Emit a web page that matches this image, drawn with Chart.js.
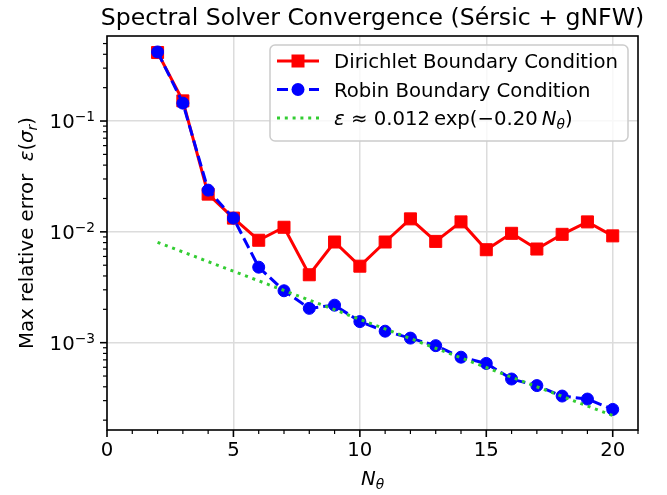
<!DOCTYPE html>
<html>
<head>
<meta charset="utf-8">
<title>Spectral Solver Convergence</title>
<script src="https://cdn.jsdelivr.net/npm/chart.js@4.4.1/dist/chart.umd.min.js"></script>
<style>
  html, body { margin: 0; padding: 0; background: #ffffff; }
  canvas { display: block; }
</style>
</head>
<body>
<canvas id="convergenceChart" width="667" height="495"></canvas>
<script>
// angular resolution N_theta and the max relative error for each boundary condition
const nTheta = [2, 3, 4, 5, 6, 7, 8, 9, 10, 11, 12, 13, 14, 15, 16, 17, 18, 19, 20];
const dirichletError = [0.415, 0.152, 0.0219, 0.0133, 0.0084, 0.0110, 0.0041, 0.0081, 0.0049, 0.0081,
  0.0131, 0.0082, 0.0123, 0.0069, 0.0097, 0.0070, 0.0095, 0.0123, 0.0092];
const robinError = [0.42, 0.145, 0.0238, 0.0133, 0.0048, 0.00294, 0.00204, 0.00218, 0.00155, 0.00127,
  0.00110, 0.00094, 0.00074, 0.00065, 0.00047, 0.00041, 0.00033, 0.00031, 0.00025];
// eps ~ 0.012 exp(-0.20 N), tabulated at the same N values
const fitError = [0.008044, 0.006586, 0.005392, 0.004415, 0.003614, 0.002959, 0.002423, 0.001984, 0.001624, 0.001330,
  0.001089, 0.000891, 0.000730, 0.000597, 0.000489, 0.000400, 0.000328, 0.000268, 0.000220];

const xMajorTicks = [0, 5, 10, 15, 20];
const yMajorTicks = [1e-3, 1e-2, 1e-1];
const yTickExponents = ["\u22123", "\u22122", "\u22121"];

const FONT = "DejaVu Sans";
const FS = 19.7;
const SUB = 13.8;
const colors = { red: "#ff0000", blue: "#0000ff", green: "#32cd32", grid: "#dcdcdc" };

const X_MIN = 0, X_MAX = 21;
const Y_MIN = 1.63e-4, Y_MAX = 0.585;

const toPoints = (ys) => nTheta.map((n, i) => ({ x: n, y: ys[i] }));

function majorIndexY(v) {
  return yMajorTicks.findIndex((m) => Math.abs(Math.log10(v) - Math.log10(m)) < 1e-9);
}

function yTicksInRange() {
  const ticks = [];
  for (let e = -4; e <= 0; e++) {
    for (let k = 1; k <= 9; k++) {
      const v = k * Math.pow(10, e);
      if (v >= Y_MIN && v <= Y_MAX) ticks.push({ value: v });
    }
  }
  return ticks;
}

function font(size, italic) {
  return (italic ? "italic " : "") + size + "px '" + FONT + "'";
}

// draws a run of text pieces with mixed style on baseline y
function drawRich(ctx, parts, x, y, align) {
  let total = 0;
  parts.forEach((p) => {
    ctx.font = font(p.size || FS, p.italic);
    p.w = ctx.measureText(p.text).width;
    total += p.w;
  });
  let cx = x;
  if (align === "center") cx = x - total / 2;
  if (align === "right") cx = x - total;
  ctx.textAlign = "left";
  ctx.textBaseline = "alphabetic";
  parts.forEach((p) => {
    ctx.font = font(p.size || FS, p.italic);
    ctx.fillText(p.text, cx, y + (p.dy || 0));
    cx += p.w;
  });
}

const decorations = {
  id: "decorations",
  afterDatasetsDraw(chart) {
    const ctx = chart.ctx;
    const area = chart.chartArea;
    const xs = chart.scales.x;
    const ys = chart.scales.y;
    ctx.save();

    // frame
    ctx.strokeStyle = "#000";
    ctx.lineWidth = 1.6;
    ctx.strokeRect(area.left, area.top, area.right - area.left, area.bottom - area.top);

    // tick marks, major and minor
    xs.ticks.forEach((t) => {
      const major = xMajorTicks.includes(t.value);
      const px = xs.getPixelForValue(t.value);
      ctx.lineWidth = major ? 1.6 : 1.2;
      ctx.beginPath();
      ctx.moveTo(px, area.bottom);
      ctx.lineTo(px, area.bottom + (major ? 7 : 4));
      ctx.stroke();
    });
    ys.ticks.forEach((t) => {
      const major = majorIndexY(t.value) >= 0;
      const py = ys.getPixelForValue(t.value);
      ctx.lineWidth = major ? 1.6 : 1.2;
      ctx.beginPath();
      ctx.moveTo(area.left, py);
      ctx.lineTo(area.left - (major ? 7 : 4), py);
      ctx.stroke();
    });

    // y tick labels as 10 with a raised exponent
    ctx.fillStyle = "#000";
    yMajorTicks.forEach((v, i) => {
      const py = ys.getPixelForValue(v);
      drawRich(ctx, [
        { text: "10" },
        { text: yTickExponents[i], size: SUB, dy: -7 },
      ], area.left - 12, py + 7, "right");
    });

    // legend
    const lx = 270, ly = 45, lw = 358, lh = 96;
    ctx.beginPath();
    ctx.roundRect(lx, ly, lw, lh, 5);
    ctx.fillStyle = "rgba(255,255,255,0.8)";
    ctx.fill();
    ctx.strokeStyle = "#cccccc";
    ctx.lineWidth = 1.5;
    ctx.stroke();

    const hx1 = 277, hx2 = 319, hc = 298, tx = 334;
    const rows = [61, 89.5, 118];
    chart.data.datasets.forEach((ds, i) => {
      const ry = rows[i];
      ctx.strokeStyle = ds.borderColor;
      ctx.lineWidth = ds.borderWidth;
      ctx.lineCap = "butt";
      ctx.setLineDash(ds.borderDash || []);
      ctx.beginPath();
      ctx.moveTo(hx1, ry);
      ctx.lineTo(hx2, ry);
      ctx.stroke();
      ctx.setLineDash([]);
      ctx.fillStyle = ds.borderColor;
      if (ds.pointStyle === "rect") {
        ctx.fillRect(hc - 6.5, ry - 6.5, 13, 13);
      } else if (ds.pointStyle === "circle") {
        ctx.beginPath();
        ctx.arc(hc, ry, 6.5, 0, Math.PI * 2);
        ctx.fill();
      }
    });
    ctx.fillStyle = "#000";
    const base = 7;
    drawRich(ctx, [{ text: "Dirichlet Boundary Condition" }], tx, rows[0] + base);
    drawRich(ctx, [{ text: "Robin Boundary Condition" }], tx, rows[1] + base);
    drawRich(ctx, [
      { text: "\u03B5", italic: true },
      { text: " \u2248 0.012\u2009exp(\u22120.20\u2009" },
      { text: "N", italic: true },
      { text: "\u03B8", italic: true, size: SUB, dy: 3.5 },
      { text: ")" },
    ], tx, rows[2] + base);

    ctx.restore();
  },
  afterDraw(chart) {
    const ctx = chart.ctx;
    const area = chart.chartArea;
    const cx = (area.left + area.right) / 2;
    const cy = (area.top + area.bottom) / 2;
    ctx.save();
    ctx.fillStyle = "#000";

    // title
    drawRich(ctx, [{ text: "Spectral Solver Convergence (S\u00E9rsic + gNFW)", size: 23.6 }], cx, 25, "center");

    // x axis label
    drawRich(ctx, [
      { text: "N", italic: true },
      { text: "\u03B8", italic: true, size: SUB, dy: 3.5 },
    ], cx, 485, "center");

    // y axis label
    ctx.translate(33, cy);
    ctx.rotate(-Math.PI / 2);
    drawRich(ctx, [
      { text: "Max relative error  " },
      { text: "\u03B5", italic: true },
      { text: "(" },
      { text: "\u03C3", italic: true },
      { text: "r", italic: true, size: SUB, dy: 3.5 },
      { text: ")" },
    ], 0, 0, "center");

    ctx.restore();
  },
};

Chart.defaults.font.family = FONT;
Chart.defaults.color = "#000";

new Chart(document.getElementById("convergenceChart"), {
  type: "line",
  data: {
    datasets: [
      {
        label: "Dirichlet Boundary Condition",
        data: toPoints(dirichletError),
        borderColor: colors.red,
        backgroundColor: colors.red,
        borderWidth: 3,
        pointStyle: "rect",
        pointRadius: 8.5,
        pointBorderWidth: 1,
        pointBorderColor: colors.red,
        pointBackgroundColor: colors.red,
        tension: 0,
        order: 3,
      },
      {
        label: "Robin Boundary Condition",
        data: toPoints(robinError),
        borderColor: colors.blue,
        backgroundColor: colors.blue,
        borderWidth: 3,
        borderDash: [11, 5],
        pointStyle: "circle",
        pointRadius: 6,
        pointBorderWidth: 1,
        pointBorderColor: colors.blue,
        pointBackgroundColor: colors.blue,
        tension: 0,
        order: 2,
      },
      {
        label: "fit",
        data: toPoints(fitError),
        borderColor: colors.green,
        backgroundColor: colors.green,
        borderWidth: 3,
        borderDash: [3, 4.8],
        borderCapStyle: "butt",
        pointRadius: 0,
        tension: 0,
        order: 1,
      },
    ],
  },
  options: {
    responsive: false,
    animation: false,
    events: [],
    layout: { padding: { left: 0, right: 29, top: 36, bottom: 0 } },
    plugins: {
      legend: { display: false },
      title: { display: false },
      tooltip: { enabled: false },
    },
    scales: {
      x: {
        type: "linear",
        min: X_MIN,
        max: X_MAX,
        afterBuildTicks: (axis) => {
          const ticks = [];
          for (let v = X_MIN; v <= X_MAX; v++) ticks.push({ value: v });
          axis.ticks = ticks;
        },
        afterFit: (axis) => { axis.height = 65; },
        border: { display: false },
        grid: {
          drawTicks: false,
          lineWidth: 1.5,
          color: (c) => (c.tick && xMajorTicks.includes(c.tick.value) ? colors.grid : "rgba(0,0,0,0)"),
        },
        ticks: {
          autoSkip: false,
          maxRotation: 0,
          padding: 9,
          font: { size: FS },
          callback: (v) => (xMajorTicks.includes(v) ? String(v) : ""),
        },
      },
      y: {
        type: "logarithmic",
        min: Y_MIN,
        max: Y_MAX,
        afterBuildTicks: (axis) => { axis.ticks = yTicksInRange(); },
        afterFit: (axis) => { axis.width = 107; },
        border: { display: false },
        grid: {
          drawTicks: false,
          lineWidth: 1.5,
          color: (c) => (c.tick && majorIndexY(c.tick.value) >= 0 ? colors.grid : "rgba(0,0,0,0)"),
        },
        ticks: {
          autoSkip: false,
          padding: 12,
          font: { size: FS },
          // labels for this axis are drawn with raised exponents in the decorations plugin
          callback: () => "",
        },
      },
    },
  },
  plugins: [decorations],
});
</script>
</body>
</html>
